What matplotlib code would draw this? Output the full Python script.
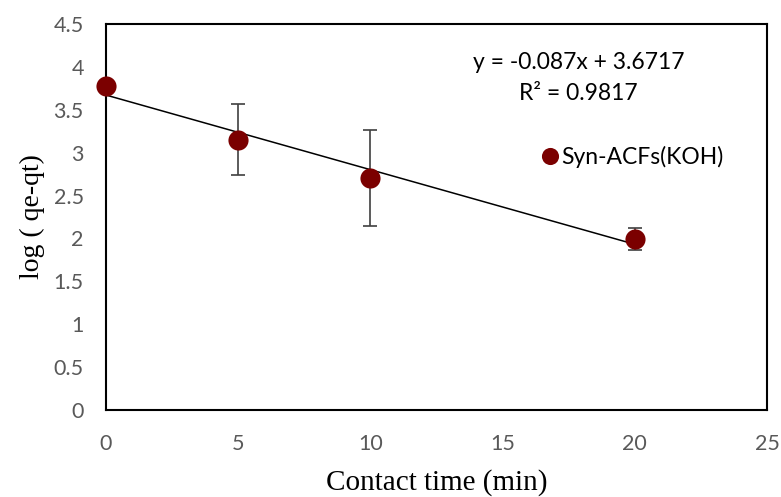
import matplotlib
matplotlib.use("Agg")
import matplotlib.pyplot as plt
import numpy as np

# First-order kinetics data
time_min = [0, 5, 10, 20]
log_qe_qt = [3.78, 3.15, 2.70, 1.99]
err_low = [0.0, 0.41, 0.55, 0.12]
err_high = [0.0, 0.42, 0.56, 0.13]

slope = -0.087
intercept = 3.6717
r_squared = 0.9817

x_ticks = [0, 5, 10, 15, 20, 25]
y_ticks = [0, 0.5, 1, 1.5, 2, 2.5, 3, 3.5, 4, 4.5]
series_name = "Syn-ACFs(KOH)"

tick_font = "Lato"
label_font = "Liberation Serif"
tick_color = "#595959"
marker_color = "#7B0000"

fig = plt.figure(figsize=(7.81, 4.97), dpi=100)
ax = fig.add_axes([106 / 781, 87 / 497, (767 - 106) / 781, (410 - 24) / 497])

ax.errorbar(time_min, log_qe_qt, yerr=[err_low, err_high], fmt="none",
            ecolor="#404040", elinewidth=1.2, capsize=5, capthick=1.2, zorder=2)

fit_x = np.array([min(time_min), max(time_min)])
ax.plot(fit_x, slope * fit_x + intercept, color="black", lw=1.1, zorder=3)

ax.plot(time_min, log_qe_qt, "o", color=marker_color, markersize=14.5,
        markeredgewidth=0, zorder=4, clip_on=False, label=series_name)

ax.set_xlim(0, 25)
ax.set_ylim(0, 4.5)
ax.set_xticks(x_ticks)
ax.set_yticks(y_ticks)
ax.set_xticklabels([f"{t:g}" for t in x_ticks])
ax.set_yticklabels([f"{t:g}" for t in y_ticks])
ax.tick_params(axis="x", length=0, pad=17, labelsize=15.5, labelcolor=tick_color)
ax.tick_params(axis="y", length=0, pad=16, labelsize=15.5, labelcolor=tick_color)
for lbl in ax.get_xticklabels() + ax.get_yticklabels():
    lbl.set_fontfamily(tick_font)

for side in ax.spines.values():
    side.set_linewidth(1.5)
    side.set_color("black")

ax.set_xlabel("Contact time (min)", fontfamily=label_font, fontsize=21, labelpad=11)
ax.set_ylabel("log ( qe-qt)", fontfamily=label_font, fontsize=20, labelpad=6)

ax.text(0.715, 0.90, f"y = {slope:g}x + {intercept:g}", transform=ax.transAxes,
        ha="center", va="center", fontfamily=tick_font, fontsize=16.5)
ax.text(0.715, 0.82, f"R² = {r_squared:g}", transform=ax.transAxes,
        ha="center", va="center", fontfamily=tick_font, fontsize=16.5)

ax.legend(loc="center left", bbox_to_anchor=(0.64, 0.655), frameon=False,
          prop={"family": tick_font, "size": 16.5}, handletextpad=0.0,
          handlelength=1.0, markerscale=0.85, borderaxespad=0)

fig.savefig("out.png", dpi=100)
